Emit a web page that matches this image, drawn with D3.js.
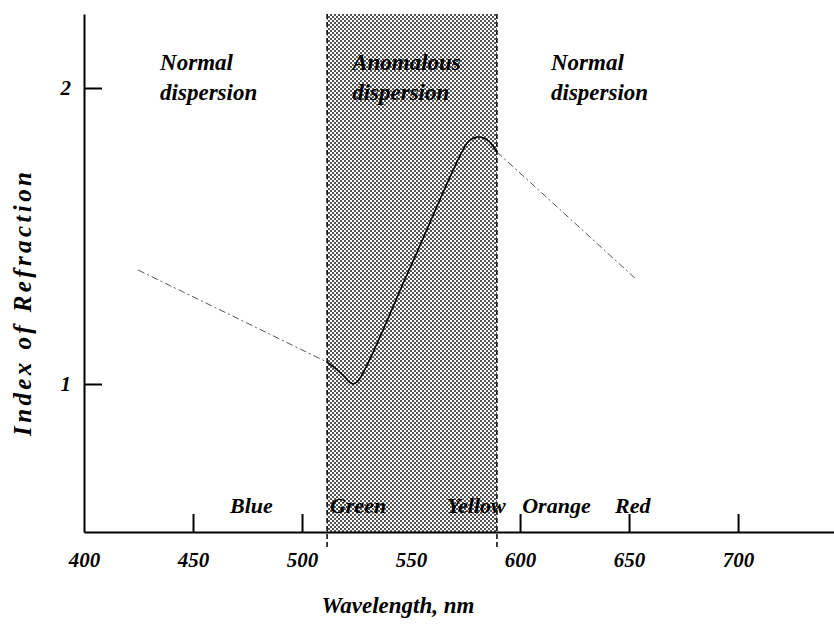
<!DOCTYPE html>
<html lang="en">
<head>
<meta charset="utf-8">
<title>Normal and anomalous dispersion</title>
<script src="https://cdnjs.cloudflare.com/ajax/libs/d3/7.8.5/d3.min.js"></script>
<style>
body { margin: 0; background: #fff; }
text { font-family: "Liberation Serif", serif; font-style: italic; font-weight: bold; fill: #000; }
</style>
</head>
<body>
<script>
var w = 834, h = 625;

// index of refraction vs wavelength (nm)
var normalBlue = [[424.8, 1.385], [470, 1.223], [511.5, 1.074]];
var anomalous = [[511.5, 1.074], [514, 1.06], [517, 1.042], [519.5, 1.025], [521.5, 1.008], [523.5, 1.0], [525.7, 1.01],
                 [550, 1.40], [575.7, 1.814], [578, 1.828], [580.5, 1.834], [583, 1.832], [586, 1.818], [589.4, 1.784]];
var normalRed = [[589.4, 1.784], [620, 1.578], [653.7, 1.351]];

var band = [511.5, 589.4];
var xTicks = [400, 450, 500, 550, 600, 650, 700];
var yTicks = [1, 2];
var colorNames = ["Blue", "Green", "Yellow", "Orange", "Red"];
var colorStart = [467, 512.8, 566.5, 601, 643.6];
var regionNames = [["Normal", "dispersion"], ["Anomalous", "dispersion"], ["Normal", "dispersion"]];
var regionStart = [434.9, 523, 614.2];

var x = d3.scaleLinear().domain([400, 744]).range([84, 834]);
var y = d3.scaleLinear().domain([0.5, 2.25]).range([532, 14]);

var svg = d3.select("body").append("svg")
  .attr("width", w)
  .attr("height", h);

// dotted screen for the anomalous band
var pat = svg.append("defs").append("pattern")
  .attr("id", "dots")
  .attr("patternUnits", "userSpaceOnUse")
  .attr("width", 4)
  .attr("height", 4);
pat.append("rect").attr("width", 4).attr("height", 4).attr("fill", "#fff");
pat.append("rect").attr("x", 0).attr("y", 0).attr("width", 2).attr("height", 2).attr("fill", "#555");
pat.append("rect").attr("x", 2).attr("y", 2).attr("width", 2).attr("height", 2).attr("fill", "#555");

svg.append("rect")
  .attr("x", x(band[0]))
  .attr("y", y(2.25))
  .attr("width", x(band[1]) - x(band[0]))
  .attr("height", y(0.5) - y(2.25))
  .attr("fill", "url(#dots)");

svg.selectAll(".edge")
  .data(band)
  .enter()
  .append("line")
  .attr("class", "edge")
  .attr("x1", function (d) { return x(d); })
  .attr("x2", function (d) { return x(d); })
  .attr("y1", y(2.25))
  .attr("y2", y(0.5) + 18)
  .attr("stroke", "#000")
  .attr("stroke-width", 1.5)
  .attr("stroke-dasharray", "5,3");

// axes
var xAxis = d3.axisBottom(x)
  .tickValues(xTicks)
  .tickFormat(d3.format("d"))
  .tickSizeInner(-18)
  .tickSizeOuter(0)
  .tickPadding(20);

var gx = svg.append("g")
  .attr("transform", "translate(0," + y(0.5) + ")")
  .call(xAxis);
gx.select(".domain").attr("stroke-width", 2);
gx.selectAll(".tick line")
  .attr("stroke-width", 2)
  .style("display", function (d) { return (d === 400 || d === 550) ? "none" : null; });
gx.selectAll(".tick text")
  .attr("font-size", 21)
  .attr("font-family", null);

var yAxis = d3.axisLeft(y)
  .tickValues(yTicks)
  .tickFormat(d3.format("d"))
  .tickSizeInner(-18)
  .tickSizeOuter(0)
  .tickPadding(13);

var gy = svg.append("g")
  .attr("transform", "translate(" + x(400) + ",0)")
  .call(yAxis);
gy.select(".domain").attr("stroke-width", 2);
gy.selectAll(".tick line").attr("stroke-width", 2);
gy.selectAll(".tick text")
  .attr("font-size", 21)
  .attr("font-family", null);

// curve
var line = d3.line()
  .x(function (d) { return x(d[0]); })
  .y(function (d) { return y(d[1]); });

[normalBlue, normalRed].forEach(function (seg) {
  svg.append("path")
    .attr("d", line(seg))
    .attr("fill", "none")
    .attr("stroke", "#555")
    .attr("stroke-width", 1)
    .attr("stroke-dasharray", "7,3,2,3");
});

svg.append("path")
  .attr("d", line.curve(d3.curveCatmullRom)(anomalous))
  .attr("fill", "none")
  .attr("stroke", "#000")
  .attr("stroke-width", 1.6);

// region labels
regionNames.forEach(function (lines, i) {
  var t = svg.append("text")
    .attr("x", x(regionStart[i]))
    .attr("y", y(2.061))
    .attr("font-size", 23);
  t.append("tspan").attr("x", x(regionStart[i])).text(lines[0]);
  t.append("tspan").attr("x", x(regionStart[i])).attr("dy", 30).text(lines[1]);
});

// colour names along the axis
svg.selectAll(".cname")
  .data(colorNames)
  .enter()
  .append("text")
  .attr("class", "cname")
  .attr("x", function (d, i) { return x(colorStart[i]); })
  .attr("y", 513)
  .attr("font-size", 22)
  .text(function (d) { return d; });

// axis titles
svg.append("text")
  .attr("x", 398)
  .attr("y", 613)
  .attr("text-anchor", "middle")
  .attr("font-size", 23)
  .text("Wavelength, nm");

svg.append("text")
  .attr("transform", "translate(31,304) rotate(-90)")
  .attr("text-anchor", "middle")
  .attr("font-size", 25)
  .attr("textLength", 264)
  .attr("lengthAdjust", "spacing")
  .text("Index of Refraction");
</script>
</body>
</html>
